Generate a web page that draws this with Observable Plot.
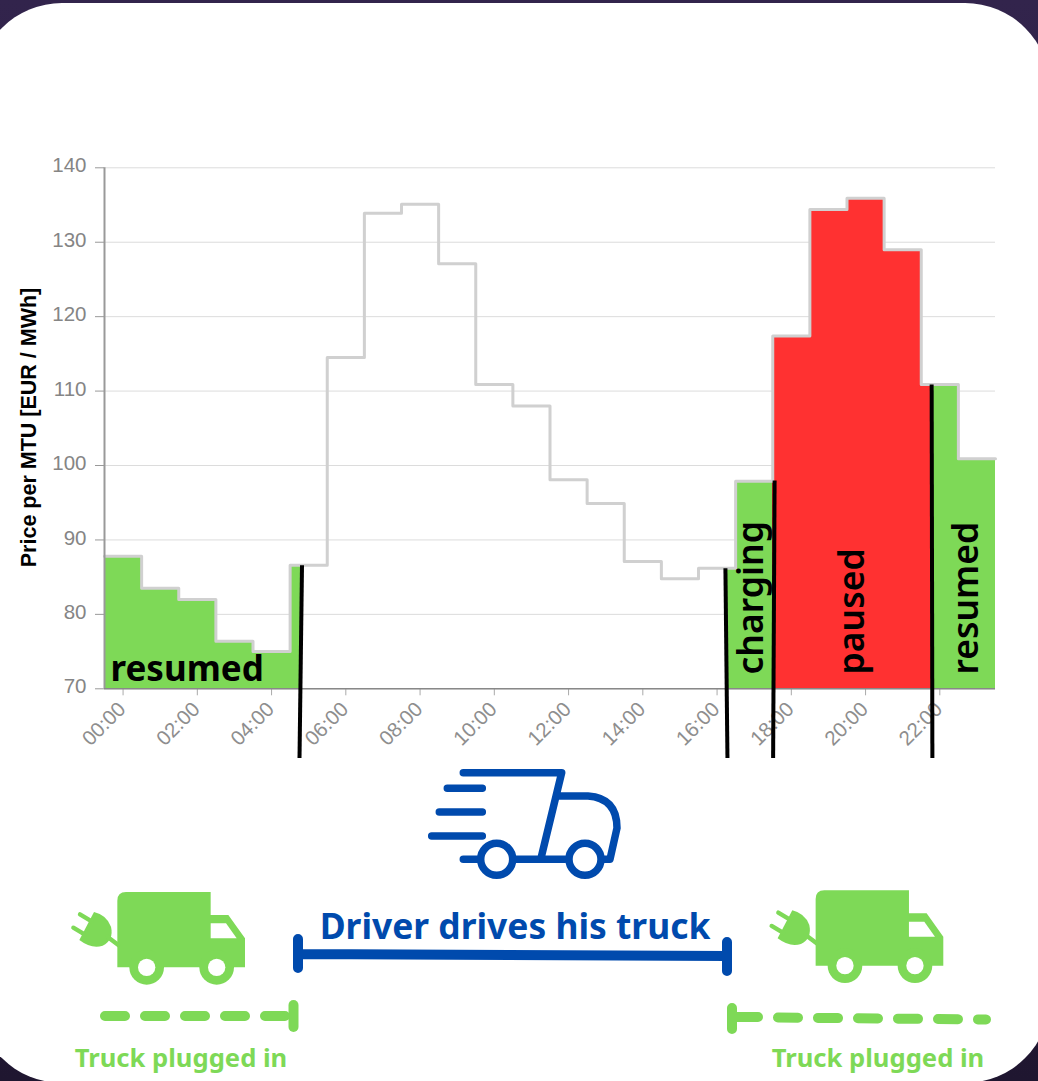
<!DOCTYPE html>
<html><head><meta charset="utf-8">
<script src="https://cdn.jsdelivr.net/npm/d3@7"></script>
<script src="https://cdn.jsdelivr.net/npm/@observablehq/plot@0.6"></script>
<style>
html,body{margin:0;padding:0;background:linear-gradient(#32244c,#1f1630);width:1038px;height:1081px;overflow:hidden}
#card{position:absolute;left:-23px;top:3px;width:1073px;height:1079.5px;background:#fff;border-radius:85px}
#chart{position:absolute;left:0;top:0}
svg{background:transparent!important}
</style></head><body>
<div id="card"></div><div id="chart"></div>
<script>
const hours = d3.range(24);
const prices = [87.8,83.5,82,76.4,75,86.6,114.5,133.9,135.1,127.1,110.9,108,98.1,94.9,87.1,84.8,86.2,97.9,117.4,134.4,135.9,129,110.9,100.9];
const tickHours = [0,2,4,6,8,10,12,14,16,18,20,22];
const yTicks = [70,80,90,100,110,120,130,140];
const stateStart = [-0.5,16.25,17.5,21.78];
const stateEnd = [4.82,17.5,21.78,23.5];
const stateFill = ["#7ed957","#7ed957","#ff3131","#7ed957"];
const breakTopX = [4.82,16.225,17.55,21.78];
const breakTopY = [86.6,86.2,98,110.9];
const breakBottomX = [4.753,16.28,17.51,21.8];
const breakBottomY = [60.7,60.7,60.7,60.7];
const fmtHour = h => String(h).padStart(2,"0")+":00";
const GREEN="#7ed957", BLUE="#004aad";

const stepData = hours.map(h=>({x:h-0.5,y:prices[h]})).concat([{x:23.5,y:prices[23]}]);
const segments = [];
stateStart.forEach((a,i)=>hours.forEach(h=>{
  const x1=Math.max(a,h-0.5), x2=Math.min(stateEnd[i],h+0.5);
  if(x2>x1) segments.push({x1,x2,y:prices[h],fill:stateFill[i]});
}));
const breaks = breakTopX.map((x,i)=>({x1:x,y1:breakTopY[i],x2:breakBottomX[i],y2:breakBottomY[i]}));

const verticalLabels = [
 {t:"charging",x:762},
 {t:"paused",x:863},
 {t:"resumed",x:977}
];
const px = f=>({value:f,scale:null});

function svgEl(name,attrs,parent){
  const e=document.createElementNS("http://www.w3.org/2000/svg",name);
  for(const k in attrs) e.setAttribute(k,attrs[k]);
  if(parent) parent.appendChild(e);
  return e;
}
function greenTruck(g,tx,ty){
  const t=svgEl("g",{transform:`translate(${tx},${ty}) scale(${1/3})`},g);
  svgEl("path",{d:"M202 262V62Q202 36 228 36H482V105H535L585 175V262Z",fill:GREEN},t);
  svgEl("path",{d:"M482 130H528L560 175H482Z",fill:"#fff"},t);
  [290,500].forEach(cx=>{
    svgEl("circle",{cx,cy:262,r:52,fill:GREEN},t);
    svgEl("circle",{cx,cy:262,r:26,fill:"#fff"},t);
  });
  svgEl("path",{d:"M132 96Q170 105 183 140Q192 180 158 197Q125 208 88 180Z",fill:GREEN},t);
  svgEl("path",{d:"M90 103L125 124M70 143L105 164M172 170L205 195",stroke:GREEN,"stroke-width":13,"stroke-linecap":"round",fill:"none"},t);
}
function decor(){
  const g=svgEl("g",{fill:"none","stroke-linecap":"round","stroke-linejoin":"round"});
  svgEl("path",{stroke:BLUE,"stroke-width":7.5,d:
   "M463.3 772.7H561.7L540.7 859.3M558.3 796H588Q617 798 617 828L610 859.3H603M463.3 859.3H478M515 859.3H565M447.3 788.3H482.3M439.3 812H482.3M431.7 836H482.3"},g);
  [496.7,585].forEach(cx=>svgEl("circle",{cx,cy:859.3,r:16,stroke:BLUE,"stroke-width":7.5,fill:"#fff"},g));
  greenTruck(g,50,880);
  greenTruck(g,748.3,878.3);
  svgEl("path",{stroke:BLUE,"stroke-width":10,d:"M298 954L727 956M298 939V968M727 942V971"},g);
  svgEl("path",{stroke:GREEN,"stroke-width":10,d:"M293.5 1005V1027"},g);
  svgEl("path",{stroke:GREEN,"stroke-width":10,"stroke-dasharray":"20 20",d:"M105 1016H290"},g);
  svgEl("path",{stroke:GREEN,"stroke-width":10,d:"M732 1008V1029M732 1017H758"},g);
  svgEl("path",{stroke:GREEN,"stroke-width":10,"stroke-dasharray":"20 20",d:"M778 1017.5L986 1019.5"},g);
  return g;
}

const plot = Plot.plot({
  width:1038, height:1081,
  marginLeft:104, marginRight:43, marginTop:167.3, marginBottom:392.7,
  style:{background:"transparent",fontFamily:"'Liberation Sans',Arial,sans-serif"},
  x:{domain:[-0.5,23.5],label:null},
  y:{domain:[70,140],label:null},
  marks:[
    Plot.ruleY(yTicks,{stroke:"#dcdcdc",strokeWidth:1}),
    Plot.axisY({ticks:yTicks,tickSize:9,tickFormat:()=>"",stroke:"#999",label:null}),
    Plot.text(yTicks,{x:()=>-0.5,y:d=>d,dx:-18,dy:-2,text:d=>String(d),textAnchor:"end",fontSize:20.5,fill:"#858585"}),
    Plot.axisX({ticks:tickHours,tickFormat:()=>"",tickSize:7,stroke:"#aaa",label:null}),
    Plot.text(tickHours,{x:d=>d,y:()=>70,dx:-1,dy:17,text:fmtHour,rotate:-45,textAnchor:"end",fontSize:20.5,fill:"#8e8e8e"}),
    Plot.rect(segments,{x1:"x1",x2:"x2",y1:()=>70,y2:"y",fill:"fill",shapeRendering:"crispEdges"}),
    Plot.line(stepData,{x:"x",y:"y",curve:"step-after",stroke:"#d0d0d0",strokeWidth:3}),
    Plot.ruleX([-0.5],{stroke:"#999",strokeWidth:2}),
    Plot.ruleY([70],{stroke:"#888",strokeWidth:1.5}),
    decor,
    Plot.link(breaks,{x1:"x1",y1:"y1",x2:"x2",y2:"y2",stroke:"#000",strokeWidth:4}),
    Plot.text(["resumed"],{x:px(()=>110),y:px(()=>680),text:d=>d,fontSize:35,fontWeight:700,fill:"#000",fontFamily:"'Noto Sans'",textAnchor:"start",lineAnchor:"bottom"}),
    Plot.text(verticalLabels,{x:px(d=>d.x),y:px(()=>674),text:"t",fontSize:35.5,fontWeight:600,rotate:-90,fill:"#000",fontFamily:"'Noto Sans'",textAnchor:"start",lineAnchor:"bottom"}),
    Plot.text(["Price per MTU [EUR / MWh]"],{x:px(()=>29),y:px(()=>427),text:d=>d,rotate:-90,fontSize:21.5,fontWeight:"bold",fill:"#000",fontFamily:"'Liberation Sans'"}),
    Plot.text(["Driver drives his truck"],{x:px(()=>514.5),y:px(()=>927),text:d=>d,fontSize:35.4,fontWeight:700,fill:BLUE,fontFamily:"'Noto Sans'"}),
    Plot.text(["Truck plugged in","Truck plugged in"],{x:px((d,i)=>[180.5,877.5][i]),y:px(()=>1058),text:d=>d,fontSize:25.6,fontWeight:700,fill:GREEN,fontFamily:"'Noto Sans'"})
  ]
});
document.getElementById("chart").appendChild(plot);
</script></body></html>
